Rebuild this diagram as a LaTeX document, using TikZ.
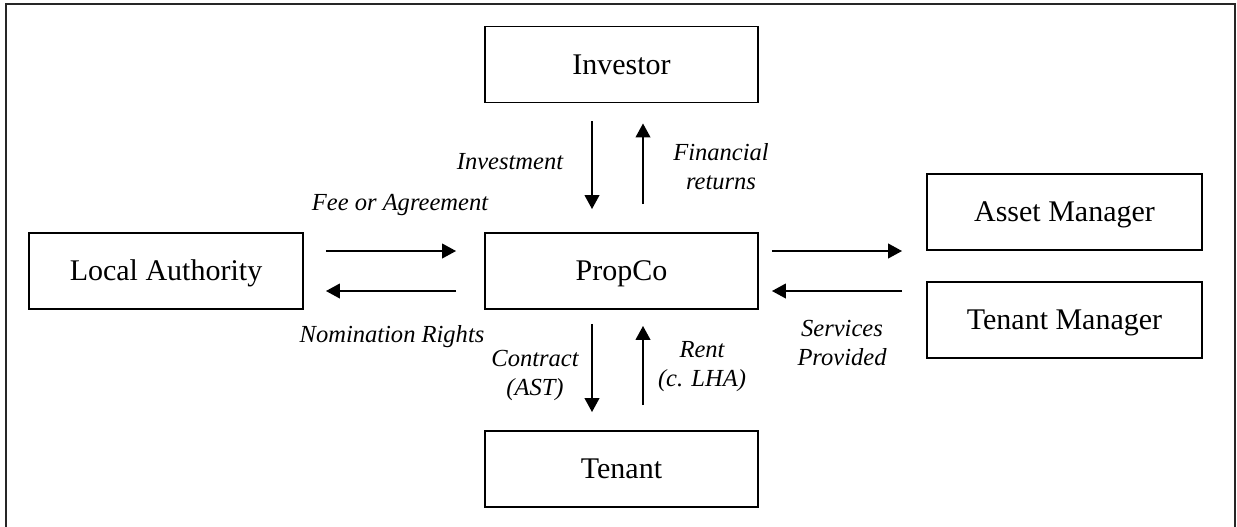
\documentclass[tikz,border=0pt]{standalone}
\usepackage{fontspec}
\setmainfont{Liberation Serif}
\usetikzlibrary{arrows.meta,calc}
\begin{document}
\begin{tikzpicture}[x=0.75pt,y=-0.75pt,
  box/.style={draw,line width=1.4pt,inner sep=0pt,minimum width=204.75pt,minimum height=57pt,
    font=\fontsize{22.5}{27}\selectfont,text height=19pt,text depth=4.3pt},
  lbl/.style={font=\fontsize{18.4}{21.75}\selectfont\itshape,align=center,inner sep=0pt},
  arr/.style={line width=1.5pt,-{Triangle[length=10.5pt,width=11pt]}}]
\clip (0,0) rectangle (1237,526);
\draw[line width=1.8pt,black!85] (6,4) rectangle (1235,540);
\node[box] (investor) at (621.5,64.5) {Investor};
\node[box] (propco) at (621.5,271) {PropCo};
\node[box] (tenant) at (621.5,469) {Tenant};
\node[box,minimum width=205.5pt] (la) at (166,271) {Local Authority};
\node[box,minimum width=206.25pt] (am) at (1064.5,212) {Asset Manager};
\node[box,minimum width=206.25pt] (tm) at (1064.5,320) {Tenant Manager};
% vertical arrows
\draw[arr] ($(investor.south)+(-29.5,18)$) -- ($(propco.north)+(-29.5,-23)$);
\draw[arr] ($(propco.north)+(21.5,-28)$) -- ($(investor.south)+(21.5,20)$);
\draw[arr] ($(propco.south)+(-29.5,14)$) -- ($(tenant.north)+(-29.5,-18)$);
\draw[arr] ($(tenant.north)+(21.5,-25)$) -- ($(propco.south)+(21.5,16)$);
% horizontal arrows
\draw[arr] ($(la.east)+(22,-20)$) -- ($(propco.west)+(-28,-20)$);
\draw[arr] ($(propco.west)+(-28,20)$) -- ($(la.east)+(22,20)$);
\draw[arr] ($(propco.east)+(13,-20)$) -- ($(am.west)+(-24,39)$);
\draw[arr] ($(tm.west)+(-24,-29)$) -- ($(propco.east)+(13,20)$);
% labels
\node[lbl] (linv) at (510,162) {Investment};
\node[lbl] (lfee) at (400,205) {Fee or Agreement};
\node[lbl] (lfin) at (721,167) {Financial\\returns};
\node[lbl] (lnom) at (392,337) {Nomination Rights};
\node[lbl] (lcon) at (535,375) {Contract\\(AST)};
\node[lbl] (lrent) at (702,367) {Rent\\(c. LHA)};
\node[lbl] (lserv) at (842,343) {Services\\Provided};
\end{tikzpicture}
\end{document}
